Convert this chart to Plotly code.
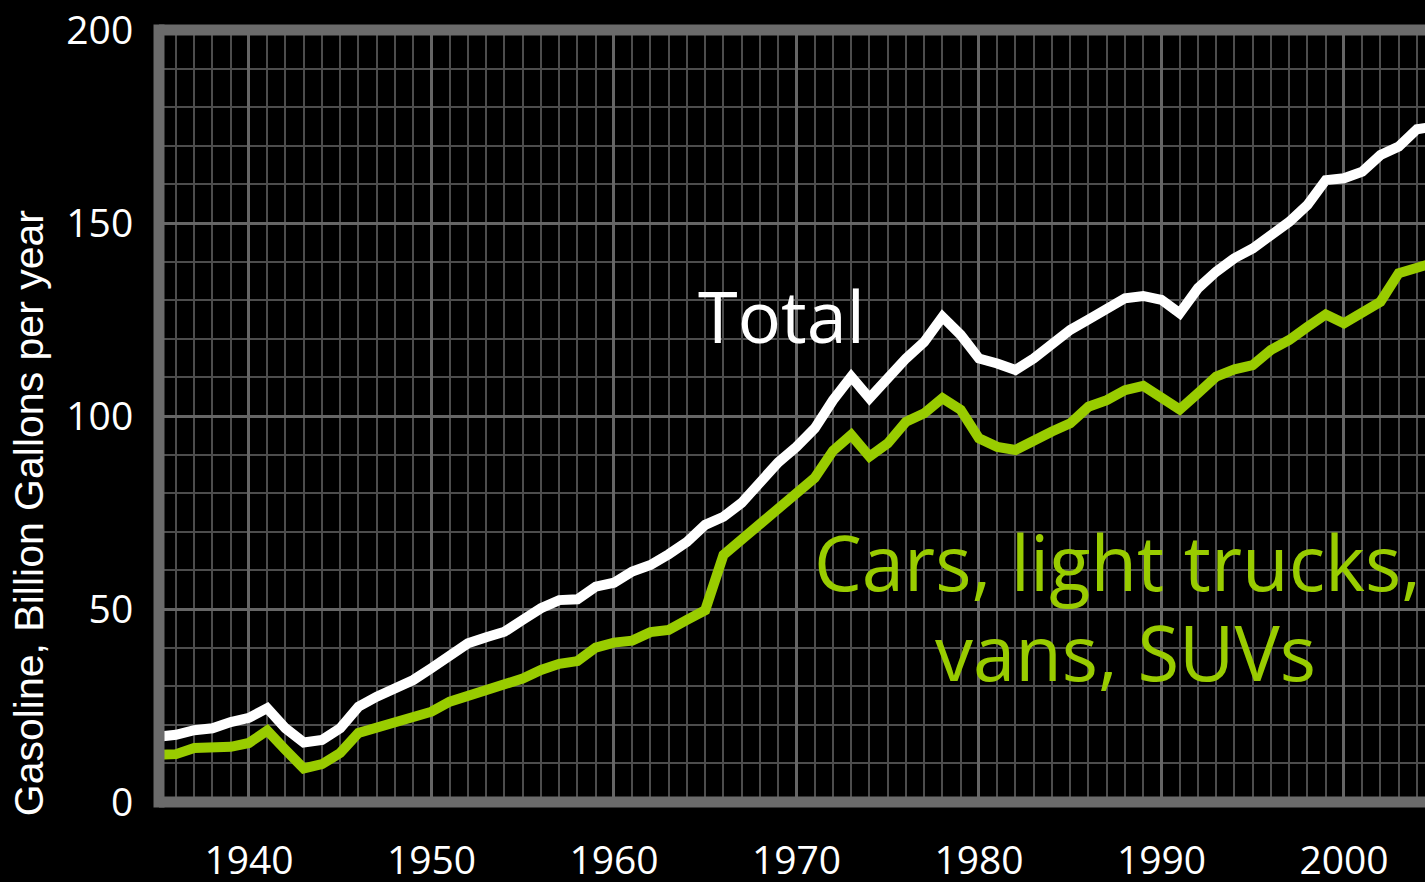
import plotly.graph_objects as go

years = list(range(1935, 2006))

total = [16.9, 17.4, 18.6, 19.1, 20.7, 21.8, 24.3, 19.1, 15.4, 16.1,
         19.1, 24.7, 27.3, 29.5, 31.6, 34.7, 37.8, 41.1, 42.7, 44.1,
         47.2, 50.2, 52.3, 52.5, 55.8, 56.8, 59.7, 61.4, 64.2, 67.4,
         71.8, 73.9, 77.5, 82.5, 88.0, 92.0, 96.8, 104.1, 110.2, 104.6,
         109.8, 114.9, 119.2, 125.7, 121.0, 114.9, 113.6, 111.9, 114.9, 118.8,
         122.3, 125.0, 127.5, 130.5, 131.1, 130.1, 126.6, 133.1, 137.4, 140.9,
         143.4, 146.9, 150.3, 154.7, 161.1, 161.6, 163.3, 167.6, 169.8, 174.3,
         175.0]

cars = [12.2, 12.4, 14.0, 14.1, 14.3, 15.3, 18.5, 13.5, 8.7, 9.8,
        12.7, 17.9, 19.2, 20.5, 21.8, 23.4, 26.0, 27.5, 28.7, 30.0,
        32.0, 34.2, 35.8, 36.5, 40.0, 41.3, 41.8, 44.0, 44.6, 47.2,
        49.7, 64.0, 68.0, 71.8, 75.5, 79.5, 84.0, 91.0, 95.1, 89.5,
        92.9, 98.5, 100.7, 104.6, 101.6, 94.2, 92.0, 91.2, 93.8, 96.0,
        98.1, 102.4, 104.1, 106.7, 107.8, 105.0, 101.7, 105.9, 110.2, 112.1,
        113.2, 117.1, 119.7, 123.1, 126.3, 124.0, 127.0, 129.6, 137.0, 138.7,
        139.8]

x_ticks = [1940, 1950, 1960, 1970, 1980, 1990, 2000]
y_ticks = [0, 50, 100, 150, 200]

GREEN = "#99cc00"
FRAME = "#6b6b6b"
TICKFONT = dict(family="Open Sans", size=39, color="white")

fig = go.Figure()
fig.add_trace(go.Scatter(x=years, y=cars, mode="lines",
                         line=dict(color=GREEN, width=10), hoverinfo="skip"))
fig.add_trace(go.Scatter(x=years, y=total, mode="lines",
                         line=dict(color="white", width=10), hoverinfo="skip"))

fig.update_layout(
    width=1425, height=882,
    margin=dict(l=159, r=0, t=30, b=80),
    paper_bgcolor="black", plot_bgcolor="black",
    showlegend=False,
    xaxis=dict(range=[1935.07, 2004.44], tickvals=x_ticks,
               ticktext=[str(v) for v in x_ticks], automargin=False,
               showgrid=True, gridcolor="#666666", gridwidth=3,
               minor=dict(dtick=1, tick0=1935, showgrid=True,
                          gridcolor="#4d4d4d", gridwidth=2),
               zeroline=False, showline=False,
               ticks="outside", ticklen=24, tickcolor="rgba(0,0,0,0)",
               tickfont=TICKFONT),
    yaxis=dict(range=[0, 200], tickvals=y_ticks,
               ticktext=[str(v) for v in y_ticks], automargin=False,
               showgrid=True, gridcolor="#666666", gridwidth=3,
               minor=dict(dtick=10, tick0=0, showgrid=True,
                          gridcolor="#4d4d4d", gridwidth=2),
               zeroline=False, showline=False,
               ticks="outside", ticklen=17, tickcolor="rgba(0,0,0,0)",
               tickfont=TICKFONT),
)

# frame (left, top, bottom)
for (x0, y0, x1, y1) in [(0, -0.007, 0, 1.007), (0, 1, 1, 1), (0, 0, 1, 0)]:
    fig.add_shape(type="line", xref="paper", yref="paper",
                  x0=x0, y0=y0, x1=x1, y1=y1,
                  line=dict(color=FRAME, width=11), layer="above")

fig.add_annotation(text="Gasoline, Billion Gallons per year", textangle=-90,
                   xref="paper", yref="paper", x=-0.1027, y=0.374,
                   xanchor="center", yanchor="middle", showarrow=False,
                   font=dict(family="Liberation Sans", size=41, color="white"))

fig.add_annotation(text="Total", x=1969.2, y=126.2, showarrow=False,
                   xanchor="center", yanchor="middle",
                   font=dict(family="Open Sans", size=72, color="white"))
fig.add_annotation(text="Cars, light trucks,", x=1987.6, y=62.4, showarrow=False,
                   xanchor="center", yanchor="middle",
                   font=dict(family="Open Sans", size=76, color=GREEN))
fig.add_annotation(text="vans, SUVs", x=1988.05, y=39.1, showarrow=False,
                   xanchor="center", yanchor="middle",
                   font=dict(family="Open Sans", size=76, color=GREEN))

fig.write_html("out.html", config={"displayModeBar": False},
               post_script="document.body.style.margin='0';document.body.style.overflow='hidden';")
